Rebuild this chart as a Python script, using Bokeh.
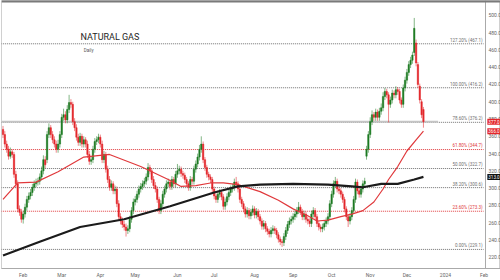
from bokeh.plotting import figure
from bokeh.models import Range1d, FixedTicker, NumeralTickFormatter, Label, Span, ColumnDataSource, LinearAxis
from bokeh.core.properties import value
from bokeh.embed import file_html
from bokeh.resources import INLINE

# ---------------- data ----------------
opens = [368,362,351,345,337,342,339,316,305,276,
         272,264,270,278,287,291,295,301,305,307,
         308,313,320,333,333,362,370,362,356,351,
         345,351,362,382,385,379,391,399,397,377,
         370,359,353,360,351,356,351,339,331,333,
         345,354,356,359,351,333,339,322,310,301,
         305,297,299,282,267,262,258,255,251,253,
         264,274,284,287,293,299,302,305,308,313,
         324,320,310,303,299,287,274,282,293,299,
         305,307,302,310,305,316,320,322,317,315,
         310,305,301,310,308,322,328,336,345,351,
         333,324,316,313,310,299,291,287,293,295,
         290,279,284,290,295,299,301,307,305,299,
         287,282,276,270,274,268,272,276,269,273,
         267,262,256,259,253,250,247,251,253,251,
         246,241,238,237,244,251,258,262,264,267,
         270,274,278,273,267,270,264,262,259,270,
         274,267,259,255,253,255,259,262,267,282,
         293,305,308,299,297,293,287,276,267,262,
         267,274,287,307,297,293,299,305,337,345,
         362,377,385,382,388,382,389,393,406,412,
         408,397,402,410,408,414,412,402,397,416,
         425,434,443,448,457,468,443,418,400,391]
closes = [362,351,345,337,342,339,316,305,276,272,
          264,270,278,287,291,295,301,305,307,308,
          313,320,333,327,362,370,362,356,351,345,
          351,362,382,385,379,391,399,397,377,370,
          359,353,360,351,356,351,339,331,333,345,
          354,356,359,351,333,339,322,310,301,305,
          297,299,282,267,262,258,255,251,253,264,
          274,284,287,293,299,302,305,308,313,324,
          320,310,303,299,287,274,282,293,299,305,
          307,302,310,305,316,320,322,317,315,310,
          305,301,310,308,322,328,336,345,351,333,
          324,316,313,310,299,291,287,293,295,290,
          279,284,290,295,299,301,307,305,299,287,
          282,276,270,274,268,272,276,269,273,267,
          262,256,259,253,250,247,251,253,251,246,
          241,238,237,244,251,258,262,264,267,270,
          274,278,273,267,270,264,262,259,270,274,
          267,259,255,253,255,259,262,267,282,293,
          305,308,299,297,293,287,276,267,262,267,
          274,287,307,297,293,299,305,308,345,362,
          377,385,382,388,382,389,393,406,412,408,
          397,402,410,408,414,412,402,397,416,425,
          434,443,448,454,485,445,420,402,385,377]
highs = [372,366,355,349,347,345,342,320,309,280,
         276,274,282,291,295,299,305,309,311,312,
         317,325,338,337,366,375,373,366,360,355,
         356,366,386,392,389,396,408,403,400,381,
         374,363,364,363,360,359,355,343,337,349,
         358,360,363,362,355,343,342,326,314,309,
         308,303,302,286,271,266,262,259,257,268,
         278,288,291,297,303,306,309,312,317,329,
         327,323,314,307,302,290,286,297,303,309,
         311,310,314,313,320,328,326,325,320,318,
         313,308,314,313,326,332,340,350,360,354,
         336,327,319,316,313,302,294,297,299,298,
         293,288,294,299,303,305,311,313,308,302,
         290,285,279,278,277,276,280,279,277,276,
         270,265,263,262,256,253,255,257,256,254,
         249,244,241,248,255,262,266,268,271,274,
         278,284,281,276,274,273,267,265,274,278,
         277,270,262,258,259,263,266,271,286,297,
         309,313,311,302,300,296,290,279,270,271,
         278,291,311,310,300,303,309,312,349,366,
         382,390,388,392,391,393,398,411,416,415,
         411,406,414,413,418,417,415,405,420,429,
         438,447,452,458,497,472,446,421,403,394]
lows = [358,347,341,333,334,335,312,301,272,268,
        260,259,266,274,283,287,291,297,301,303,
        304,309,316,323,329,358,358,352,347,341,
        341,347,358,378,375,375,387,393,373,366,
        355,349,349,347,347,347,335,327,327,329,
        341,350,352,347,329,329,318,306,297,297,
        293,293,278,263,258,254,251,244,247,249,
        260,270,280,283,289,295,298,301,304,309,
        316,306,299,295,283,270,270,278,289,295,
        301,298,298,301,301,312,316,313,311,306,
        301,297,297,304,304,318,324,332,341,329,
        320,312,309,306,295,287,283,283,289,286,
        275,275,280,286,291,295,297,301,295,283,
        278,272,266,266,264,264,268,265,265,263,
        258,252,252,249,246,243,243,247,247,242,
        237,234,232,233,240,247,254,258,260,263,
        266,270,269,263,263,260,258,255,255,266,
        263,255,251,249,249,251,255,258,263,278,
        289,301,295,293,289,283,272,263,255,258,
        263,270,283,293,289,289,295,301,333,341,
        358,373,378,378,378,378,385,389,402,404,
        376,393,398,404,404,408,398,393,393,412,
        421,430,439,444,453,441,416,398,381,370]

# moving averages (candle index, price)
ma_fast_idx = [0, 8, 18, 30, 44, 58, 75, 90, 97, 105, 113, 120, 128, 140, 150,
               158, 166, 171, 177, 184, 190, 196, 202, 207, 210, 215, 220, 225, 229]
ma_fast_val = [287, 306, 307, 319, 336, 339, 325, 310, 302, 303, 306, 306, 304, 296, 286,
               276, 268, 262, 263, 267, 270, 274, 284, 299, 310, 325, 343, 356, 366]
ma_slow_idx = [0, 20, 42, 66, 91, 115, 128, 140, 158, 177, 190, 196, 206, 215, 224, 229]
ma_slow_val = [222, 238, 255, 264, 279, 295, 302, 304, 305, 304, 302, 301, 305, 305, 310, 313]

# Fibonacci retracement levels
fib_ratio_labels = ["0.00%", "23.60%", "38.20%", "50.00%", "61.80%", "78.60%", "100.00%", "127.20%"]
fib_prices = [229.1, 273.3, 300.6, 322.7, 344.7, 376.2, 416.2, 467.1]
fib_colors = ["#6f6f6f", "#e0393c", "#6f6f6f", "#6f6f6f", "#e0393c", "#6f6f6f", "#6f6f6f", "#6f6f6f"]

# axis ticks
month_pos = [11, 32, 53, 72, 95, 115, 137, 158, 179, 200, 220, 241, 262]
month_labels = ["Feb", "Mar", "Apr", "May", "Jun", "Jul", "Aug", "Sep", "Oct", "Nov", "Dec", "2024", "Feb"]
price_ticks = [220, 240, 260, 280, 300, 320, 340, 360, 380, 400, 420, 440, 460, 480, 500]

# ---------------- figure ----------------
GREEN = "#1d7a22"
RED = "#e3262b"
FONT = "Roboto"
AXIS_X = 262.8  # index where the price scale sits

p = figure(width=500, height=280, output_backend="svg", toolbar_location=None,
           x_range=Range1d(-0.82, 270.97), y_range=Range1d(207.0, 517.2),
           y_axis_location=None,
           min_border_left=1, min_border_top=0, min_border_bottom=0, min_border_right=0)
p.background_fill_color = "white"
p.border_fill_color = "white"
p.outline_line_color = "#d0d0d0"
p.xgrid.visible = False
p.ygrid.visible = False

# price axis drawn at a fixed location near the right edge
yax = LinearAxis(fixed_location=AXIS_X)
yax.ticker = FixedTicker(ticks=price_ticks)
yax.formatter = NumeralTickFormatter(format="0.0")
yax.major_label_text_font_size = "5px"
yax.major_label_text_color = "#666666"
yax.major_label_text_font = FONT
yax.axis_line_color = "#aaaaaa"
yax.major_tick_out = 0
yax.major_tick_in = 0
yax.minor_tick_out = 0
yax.minor_tick_in = 0
yax.major_label_standoff = 3
p.add_layout(yax, "right")

p.xaxis.ticker = FixedTicker(ticks=month_pos)
p.xaxis.major_label_overrides = {pos: lab for pos, lab in zip(month_pos, month_labels)}
p.xaxis.major_label_text_font_size = "5px"
p.xaxis.major_label_text_color = "#666666"
p.xaxis.major_label_text_font = FONT
p.xaxis.axis_line_color = "#aaaaaa"
p.xaxis.major_tick_out = 0
p.xaxis.major_tick_in = 0
p.xaxis.minor_tick_out = 0
p.xaxis.minor_tick_in = 0
p.xaxis.major_label_standoff = 3

# top border bar
p.add_layout(Span(location=517.2, dimension="width", line_color="#7a7a7a", line_width=4))

# fibonacci lines + labels
fib_src = ColumnDataSource(dict(
    y=fib_prices, c=fib_colors,
    t=[f"{r} ({v:.1f})" for r, v in zip(fib_ratio_labels, fib_prices)],
    ty=[v + 1.3 for v in fib_prices]))
p.segment(x0=-1, y0="y", x1=261.8, y1="y", source=fib_src, line_color="c",
          line_dash="1 1", line_width=1)
p.text(x=261.2, y="ty", text="t", source=fib_src, text_color="c",
       text_font=value(FONT), text_font_size="4.5px",
       text_align="right", text_baseline="bottom")

# last price grey line
last_close = closes[-1]
p.line(x=[-1, 237], y=[last_close, last_close], line_color="#c4c4c4", line_width=2)

# candles
idx = list(range(len(closes)))
cols = [GREEN if c >= o else RED for o, c in zip(opens, closes)]
src = ColumnDataSource(dict(x=idx, o=opens, c=closes, h=highs, l=lows, col=cols,
                            top=[max(o, c) for o, c in zip(opens, closes)],
                            bot=[min(o, c) for o, c in zip(opens, closes)]))
p.segment(x0="x", y0="h", x1="x", y1="l", source=src, line_color="col", line_alpha=0.55, line_width=1)
p.vbar(x="x", top="top", bottom="bot", width=0.75, source=src, fill_color="col", line_color="col", line_width=0.5)

# moving averages
p.line(ma_fast_idx, ma_fast_val, line_color="#e0393c", line_width=1.2)
p.line(ma_slow_idx, ma_slow_val, line_color="#1b1b1b", line_width=2.2)

# title
p.add_layout(Label(x=42.2, y=468.8, text="NATURAL GAS", text_font=FONT, text_font_size="9px",
                   text_color="#1e1e1e", text_baseline="bottom"))
p.add_layout(Label(x=44.0, y=456.0, text="Daily", text_font=FONT, text_font_size="4.5px",
                   text_color="#555555", text_baseline="bottom"))

# price tags on the price scale
for val, bg in [(last_close, RED), (ma_fast_val[-1], RED), (ma_slow_val[-1], "#111111")]:
    p.add_layout(Label(x=AXIS_X + 1.0, y=val, text=f"{val:.1f}", text_font=FONT, text_font_size="4.5px",
                       text_color="white", text_baseline="middle", text_align="left",
                       background_fill_color=bg, padding=1))

open("out.html", "w").write(file_html(p, INLINE))
